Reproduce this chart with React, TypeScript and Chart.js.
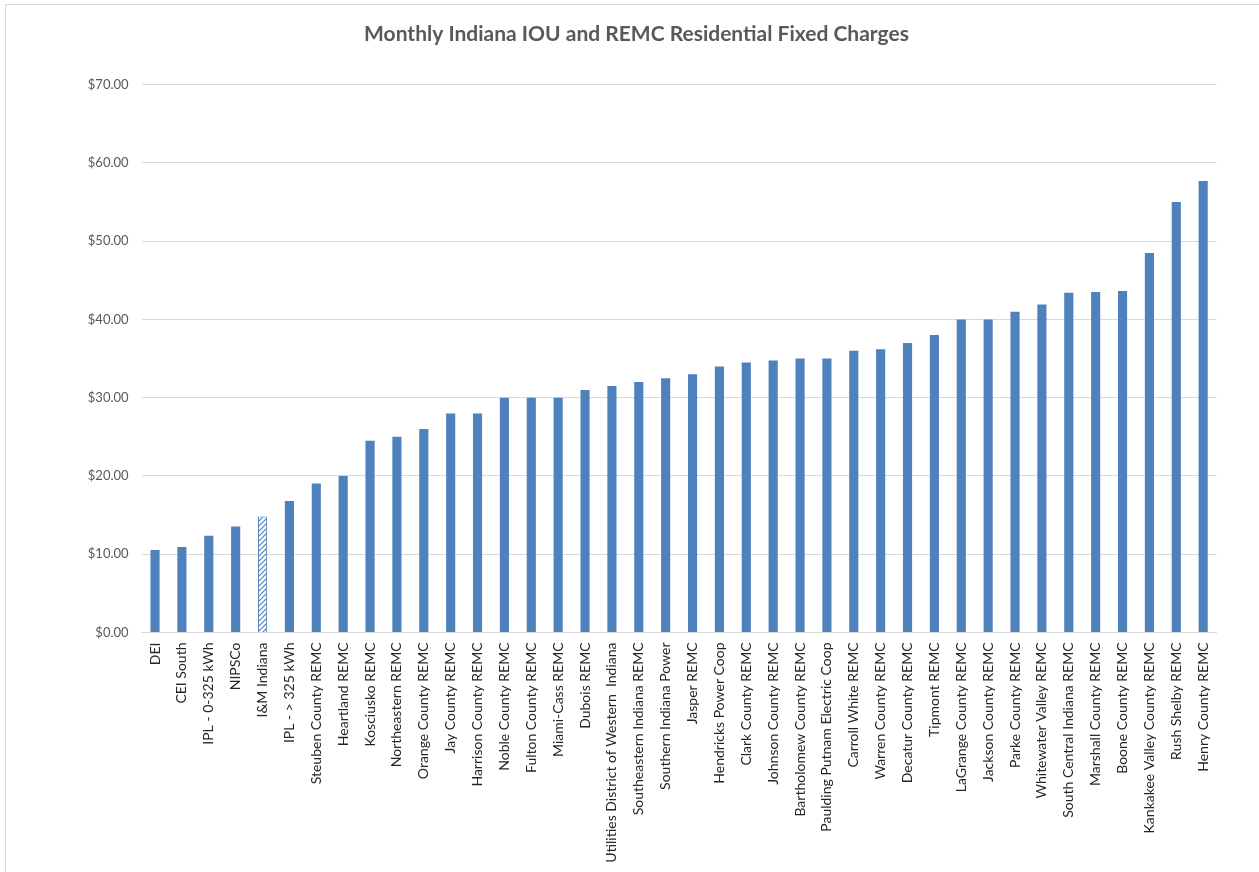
import React, { useEffect, useRef } from "react";
import { Chart, registerables } from "chart.js";

Chart.register(...registerables);

const TITLE = "Monthly Indiana IOU and REMC Residential Fixed Charges";

const categories: string[] = [
  "DEI",
  "CEI South",
  "IPL - 0-325 kWh",
  "NIPSCo",
  "I&M Indiana",
  "IPL - > 325 kWh",
  "Steuben County REMC",
  "Heartland REMC",
  "Kosciusko REMC",
  "Northeastern REMC",
  "Orange County REMC",
  "Jay County REMC",
  "Harrison County REMC",
  "Noble County REMC",
  "Fulton County REMC",
  "Miami-Cass REMC",
  "Dubois REMC",
  "Utilities District of Western  Indiana",
  "Southeastern Indiana REMC",
  "Southern Indiana Power",
  "Jasper REMC",
  "Hendricks Power Coop",
  "Clark County REMC",
  "Johnson County REMC",
  "Bartholomew County REMC",
  "Paulding Putnam Electric Coop",
  "Carroll White REMC",
  "Warren County REMC",
  "Decatur County REMC",
  "Tipmont REMC",
  "LaGrange County REMC",
  "Jackson County REMC",
  "Parke County REMC",
  "Whitewater Valley REMC",
  "South Central Indiana REMC",
  "Marshall County REMC",
  "Boone County REMC",
  "Kankakee Valley County REMC",
  "Rush Shelby REMC",
  "Henry County REMC",
];

const fixedCharges: number[] = [
  10.55, 10.94, 12.35, 13.55, 14.83, 16.8, 19.05, 20.0, 24.5, 25.0,
  26.0, 28.0, 28.0, 30.0, 30.0, 30.0, 31.0, 31.5, 32.0, 32.5,
  33.0, 34.0, 34.5, 34.75, 35.0, 35.0, 36.0, 36.2, 37.0, 38.0,
  40.0, 40.0, 41.0, 41.9, 43.4, 43.5, 43.65, 48.5, 55.0, 57.7,
];

const highlighted: string[] = ["I&M Indiana"];

const yMin = 0;
const yMax = 70;
const yStep = 10;

const BLUE = "#4F81BD";
const FONT = "Lato, 'Open Sans', sans-serif";

function makeHatch(): CanvasPattern | string {
  const c = document.createElement("canvas");
  c.width = 5;
  c.height = 5;
  const g = c.getContext("2d");
  if (!g) return BLUE;
  g.fillStyle = "#ffffff";
  g.fillRect(0, 0, 5, 5);
  g.strokeStyle = BLUE;
  g.lineWidth = 1.2;
  g.beginPath();
  g.moveTo(0, 5);
  g.lineTo(5, 0);
  g.moveTo(-1, 1);
  g.lineTo(1, -1);
  g.moveTo(4, 6);
  g.lineTo(6, 4);
  g.stroke();
  const p = g.createPattern(c, "repeat");
  return p || BLUE;
}

export default function App() {
  const ref = useRef<HTMLCanvasElement | null>(null);

  useEffect(() => {
    if (!ref.current) return;
    const hatch = makeHatch();
    const bg = categories.map((c) => (highlighted.includes(c) ? hatch : BLUE));
    const chart = new Chart(ref.current, {
      type: "bar",
      data: {
        labels: categories,
        datasets: [
          {
            data: fixedCharges,
            backgroundColor: bg as any,
            borderColor: BLUE,
            borderWidth: categories.map((c) => (highlighted.includes(c) ? 1 : 0)),
            barPercentage: 0.34,
            categoryPercentage: 1,
          },
        ],
      },
      options: {
        responsive: false,
        animation: false,
        layout: { padding: { left: 56.4, right: 42.4, top: 0, bottom: 0 } },
        plugins: {
          legend: { display: false },
          tooltip: { enabled: false },
          title: {
            display: true,
            text: TITLE,
            color: "#595959",
            font: { family: FONT, size: 21, weight: "bold" },
            padding: { top: 22, bottom: 37.5 },
          },
        },
        scales: {
          x: {
            grid: { display: false, drawTicks: false },
            border: { display: true, color: "#d9d9d9", width: 1 },
            ticks: {
              color: "#262626",
              font: { family: FONT, size: 14 },
              minRotation: 90,
              maxRotation: 90,
              autoSkip: false,
              padding: 10,
            },
            afterFit: (s: any) => {
              s.height = 872 - 632.5;
            },
          },
          y: {
            min: yMin,
            max: yMax,
            grid: { color: "#d9d9d9", drawTicks: false, lineWidth: 1 },
            border: { display: false },
            ticks: {
              stepSize: yStep,
              color: "#595959",
              font: { family: FONT, size: 13 },
              padding: 13,
              callback: (v: any) => "$" + Number(v).toFixed(2),
            },
            afterFit: (s: any) => {
              s.width = 141.6 - 56.4;
            },
          },
        },
      },
    });
    return () => chart.destroy();
  }, []);

  return (
    <>
      <div
        style={{
          position: "fixed",
          left: 5,
          top: 4,
          width: 1270,
          height: 880,
          border: "1px solid #d9d9d9",
          boxSizing: "border-box",
          background: "#fff",
        }}
      />
      <canvas
        ref={ref}
        width={1259}
        height={872}
        style={{ position: "fixed", left: 0, top: 0, width: 1259, height: 872 }}
      />
    </>
  );
}
